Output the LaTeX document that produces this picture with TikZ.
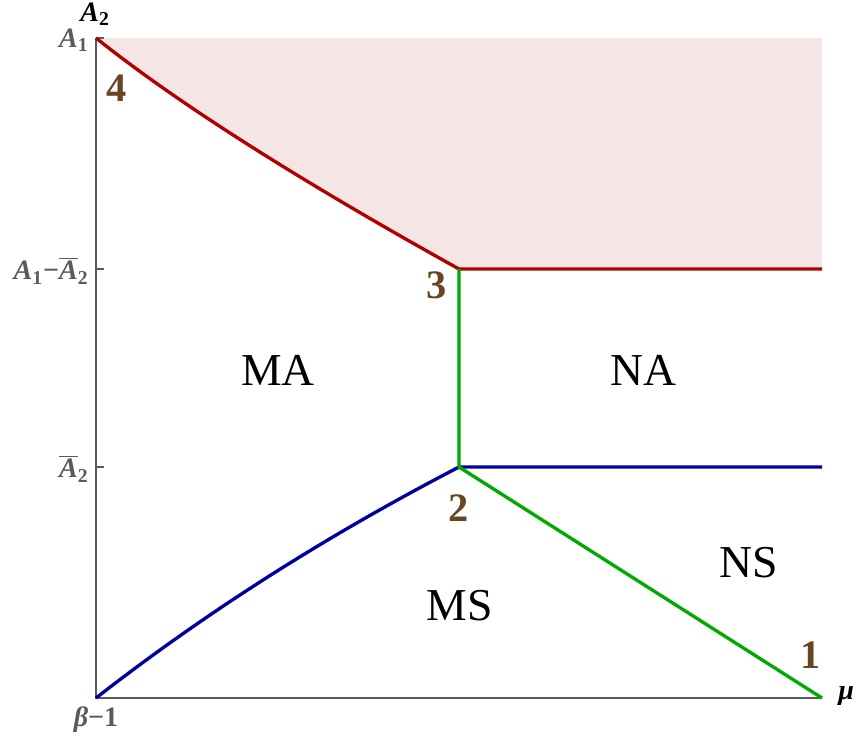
\documentclass[tikz,border=0pt]{standalone}
\usepackage{fontspec}
\setmainfont{Liberation Serif}
\usepackage{xcolor}
\usetikzlibrary{positioning}

\definecolor{regionred}{RGB}{176,0,0}
\definecolor{regionblue}{RGB}{0,0,160}
\definecolor{regiongreen}{RGB}{0,170,0}
\definecolor{regionpink}{RGB}{246,229,229}
\definecolor{pointbrown}{RGB}{104,70,36}
\definecolor{axisgray}{RGB}{90,90,90}

\newcommand{\bi}[1]{\textbf{\textit{#1}}}

\begin{document}
\begin{tikzpicture}[
        x=0.02cm, y=-0.02cm,
        axis/.style={
            draw=axisgray,
            line width=0.8pt
        },
        boundary/.style={
            line width=1.9pt
        },
        ticklabel/.style={
            text=axisgray,
            font=\fontsize{16}{16}\selectfont,
            anchor=east,
            inner sep=0pt
        },
        region/.style={
            font=\fontsize{26}{26}\selectfont
        },
        pointlabel/.style={
            text=pointbrown,
            font=\bfseries\fontsize{23}{23}\selectfont
        }
    ]

    \useasboundingbox (0,0) rectangle (857,741);

    % corner points of the regions
    \coordinate (O) at (96,698);
    \coordinate (P1) at (822,698);
    \coordinate (P2) at (459,467);
    \coordinate (P3) at (459,269);
    \coordinate (P4) at (96,38);
    \coordinate (R2) at (822,467);
    \coordinate (R3) at (822,269);
    \coordinate (R4) at (822,38);

    % shaded region
    \fill[regionpink] (P4) .. controls (176,102) and (297,179) .. (P3) -- (R3) -- (R4) -- cycle;

    % axes
    \draw[axis] (P4) -- (O) -- (P1);
    \draw[axis] (P4) -- ++(8,0);
    \draw[axis] (96,269) -- ++(8,0);
    \draw[axis] (96,467) -- ++(8,0);

    % boundaries
    \draw[boundary, regionred] (P4) .. controls (176,102) and (297,179) .. (P3) -- (R3);
    \draw[boundary, regionblue] (O) .. controls (205,613) and (326,536) .. (P2) -- (R2);
    \draw[boundary, regiongreen] (P3) -- (P2) -- (P1);

    % axis labels
    \node[ticklabel] (a1) at (89,40) {\bi{A}\textsubscript{\textbf{1}}};
    \node[ticklabel] (a1a2) at (89,271) {\bi{A}\textsubscript{\textbf{1}}\textbf{−}$\overline{\mbox{\bi{A}}}$\textsubscript{\textbf{2}}};
    \node[ticklabel] (a2bar) at (89,469) {$\overline{\mbox{\bi{A}}}$\textsubscript{\textbf{2}}};
    \node[ticklabel, anchor=north, inner sep=0pt] (beta) at (96,706) {\bi{β}\textbf{−1}};
    \node[anchor=south, inner sep=0pt, font=\fontsize{16}{16}\selectfont] (ylab) at (95,26) {\bi{A}\textsubscript{\textbf{2}}};
    \node[anchor=west, inner sep=0pt, font=\fontsize{16}{16}\selectfont] (xlab) at (838,696) {\bi{μ}};

    % regions
    \node[region] (ma) at (278,370) {MA};
    \node[region] (na) at (643,370) {NA};
    \node[region] (ms) at (460,606) {MS};
    \node[region] (ns) at (749,563) {NS};

    % points
    \node[pointlabel] (n1) at (811,655) {1};
    \node[pointlabel] (n2) at (459,508) {2};
    \node[pointlabel] (n3) at (437,285) {3};
    \node[pointlabel] (n4) at (117,88) {4};

\end{tikzpicture}
\end{document}
